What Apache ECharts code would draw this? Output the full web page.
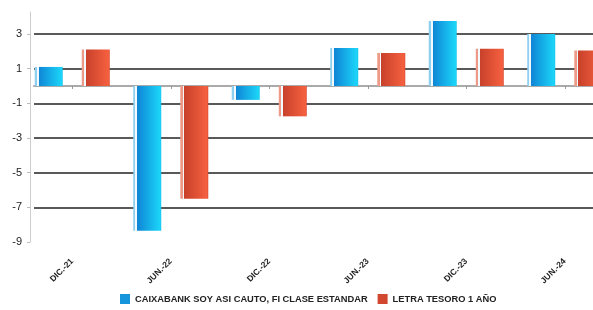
<!DOCTYPE html>
<html>
<head>
<meta charset="utf-8">
<script src="https://cdn.jsdelivr.net/npm/echarts@6/dist/echarts.min.js"></script>
<style>
  html, body { margin: 0; padding: 0; background: #fff; }
  #chart { width: 593px; height: 310px; }
</style>
</head>
<body>
<div id="chart"></div>
<script>
// Semesters on the x axis
const periods = ['DIC.-21', 'JUN.-22', 'DIC.-22', 'JUN.-23', 'DIC.-23', 'JUN.-24'];

// Series values
const fundValues = [1.1, -8.35, -0.8, 2.2, 3.75, 3.0];
const letraValues = [2.1, -6.5, -1.75, 1.9, 2.15, 2.05];

// Y tick labels
const yTicks = [-9, -7, -5, -3, -1, 1, 3];

const seriesNames = ['CAIXABANK SOY ASI CAUTO, FI CLASE ESTANDAR', 'LETRA TESORO 1 AÑO'];

// "3D" look: pale strip, white gap, then the shaded body
function barFill(pale, dark, light, edge) {
  return new echarts.graphic.LinearGradient(0, 0, 1, 0, [
    { offset: 0, color: pale },
    { offset: 0.08, color: pale },
    { offset: 0.08, color: '#f2fafd' },
    { offset: 0.15, color: '#f2fafd' },
    { offset: 0.15, color: dark },
    { offset: 0.95, color: light },
    { offset: 1, color: edge }
  ]);
}

const chart = echarts.init(document.getElementById('chart'));

const option = {
  animation: false,
  textStyle: { fontFamily: 'Liberation Sans, Arial, sans-serif' },
  grid: [
    // bars (the last category runs past the right edge, as in the original)
    { left: 23, width: 591, top: 12, bottom: 68, outerBoundsMode: 'none' },
    // horizontal rules
    { left: 34, right: 0, top: 34, bottom: 102.7, outerBoundsMode: 'none' }
  ],
  legend: {
    bottom: 1,
    left: 115,
    icon: 'rect',
    itemWidth: 10,
    itemHeight: 10,
    itemGap: 10,
    textStyle: { fontSize: 9.3, color: '#222', fontWeight: 'bold' },
    data: [
      { name: seriesNames[0], itemStyle: { color: '#1694dc' } },
      { name: seriesNames[1], itemStyle: { color: '#d2472f' } }
    ]
  },
  xAxis: [
    {
      gridIndex: 0,
      type: 'category',
      data: periods,
      offset: 6,
      axisLine: { show: false },
      axisTick: { show: true, alignWithLabel: true, length: 3, lineStyle: { color: '#999' } },
      axisLabel: {
        rotate: 45,
        margin: 12,
        fontSize: 8.5,
        fontWeight: 'bold',
        color: '#222'
      }
    },
    {
      gridIndex: 1,
      type: 'value',
      min: 0,
      max: 1,
      offset: 41,
      axisLine: { show: true, lineStyle: { color: '#aaa', width: 2 } },
      axisTick: { show: false },
      axisLabel: { show: false },
      splitLine: { show: false }
    }
  ],
  yAxis: [
    {
      gridIndex: 0,
      type: 'value',
      min: -9,
      max: 4.27,
      offset: -7,
      axisLine: { show: true, lineStyle: { color: '#ccc' } },
      axisTick: { show: true, length: 3, customValues: yTicks, lineStyle: { color: '#bbb' } },
      axisLabel: { customValues: yTicks, margin: 8, fontSize: 11, color: '#222' },
      splitLine: { show: false }
    },
    {
      gridIndex: 1,
      type: 'value',
      min: -7,
      max: 3,
      interval: 2,
      axisLine: { show: false },
      axisTick: { show: false },
      axisLabel: { show: false },
      splitLine: { show: true, lineStyle: { color: '#222', width: 1.5 } }
    }
  ],
  series: [
    {
      name: seriesNames[0],
      type: 'bar',
      xAxisIndex: 0,
      yAxisIndex: 0,
      barWidth: 28,
      barGap: '68%',
      data: fundValues,
      itemStyle: { color: barFill('#8fd0f0', '#0f86d6', '#1bd4f8', '#18c4ee') }
    },
    {
      name: seriesNames[1],
      type: 'bar',
      xAxisIndex: 0,
      yAxisIndex: 0,
      barWidth: 28,
      data: letraValues,
      itemStyle: { color: barFill('#ee9a88', '#c8412b', '#f5603f', '#d94a31') }
    }
  ]
};

chart.setOption(option);
</script>
</body>
</html>
